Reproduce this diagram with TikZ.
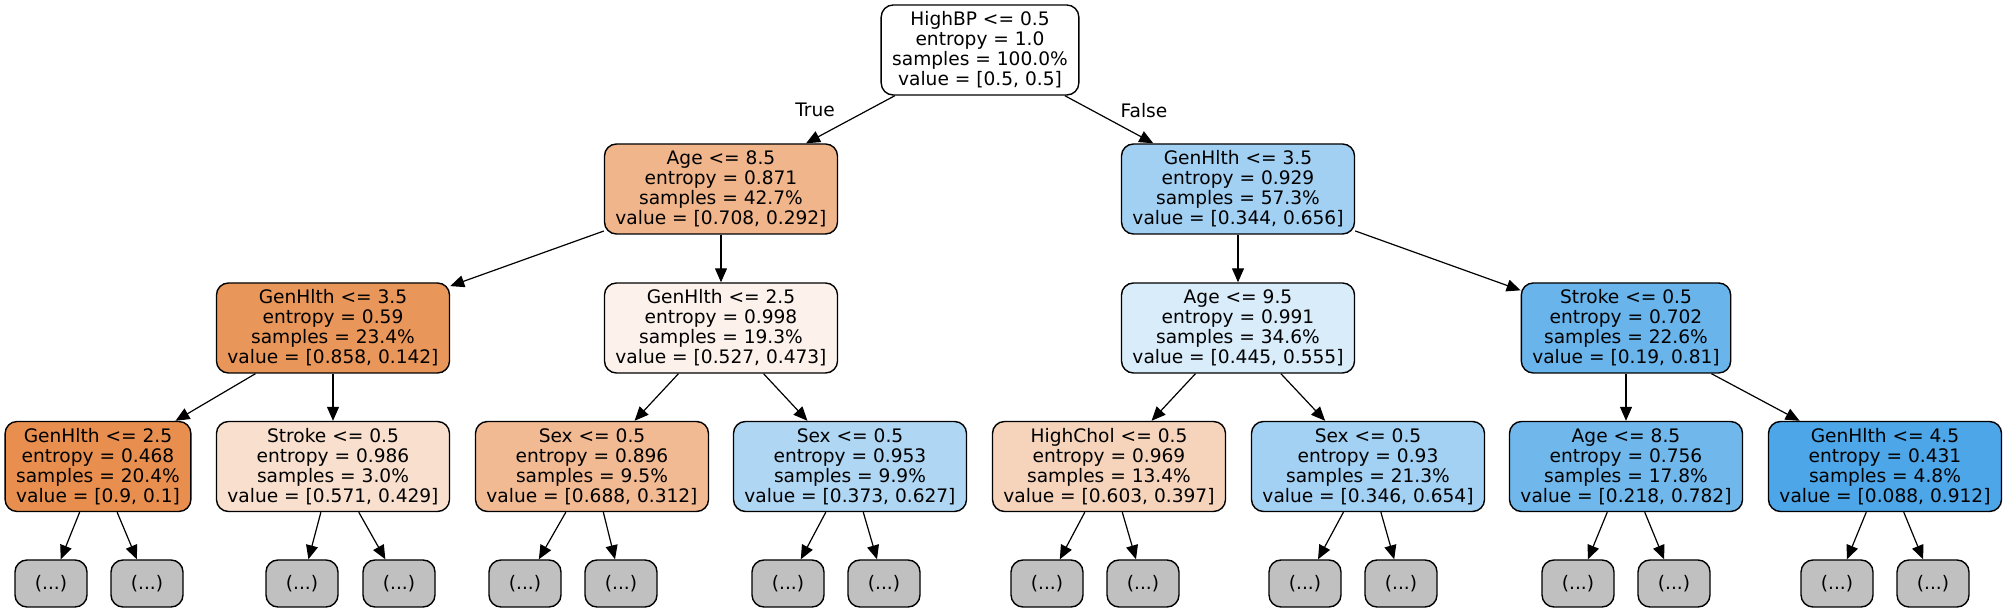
\documentclass[tikz,border=0pt]{standalone}
\usepackage{fontspec}
\setmainfont{DejaVu Sans}
\usetikzlibrary{arrows.meta,positioning}
\definecolor{clsorange}{RGB}{229,129,57}
\definecolor{clsblue}{RGB}{57,157,229}
\definecolor{leafgrey}{RGB}{192,192,192}
\tikzstyle{treenode} = [draw, rectangle, rounded corners=6pt, align=center,
    minimum height=45pt, inner xsep=5.5pt, line width=0.7pt,
    font=\fontsize{9.3}{10}\selectfont]
\tikzstyle{leafnode} = [draw, fill=leafgrey, rectangle, rounded corners=6pt,
    minimum height=23.5pt, minimum width=36pt, line width=0.7pt,
    font=\fontsize{9.3}{10}\selectfont]
\tikzstyle{branch} = [draw, ->, line width=0.6pt]
\tikzstyle{edgelabel} = [font=\fontsize{9.3}{10}\selectfont]

\begin{document}
\begin{tikzpicture}[x=0.5pt, y=-0.5pt, >={Triangle[length=7pt,width=6pt]}]
  \useasboundingbox (0,0) rectangle (2008,613);

  % root and first split
  \node [treenode, fill=white] (root) at (980,50)
    {HighBP <= 0.5\\entropy = 1.0\\samples = 100.0\%\\value = [0.5, 0.5]};
  \node [treenode, fill=clsorange!58.8!white] (age1) at (721,189)
    {Age <= 8.5\\entropy = 0.871\\samples = 42.7\%\\value = [0.708, 0.292]};
  \node [treenode, fill=clsblue!47.6!white] (gen1) at (1238,189)
    {GenHlth <= 3.5\\entropy = 0.929\\samples = 57.3\%\\value = [0.344, 0.656]};

  % depth 2
  \node [treenode, fill=clsorange!83.4!white] (gen2) at (333,328)
    {GenHlth <= 3.5\\entropy = 0.59\\samples = 23.4\%\\value = [0.858, 0.142]};
  \node [treenode, fill=clsorange!10.2!white] (gen3) at (721,328)
    {GenHlth <= 2.5\\entropy = 0.998\\samples = 19.3\%\\value = [0.527, 0.473]};
  \node [treenode, fill=clsblue!19.8!white] (age2) at (1238,328)
    {Age <= 9.5\\entropy = 0.991\\samples = 34.6\%\\value = [0.445, 0.555]};
  \node [treenode, fill=clsblue!76.5!white] (strk1) at (1626,328)
    {Stroke <= 0.5\\entropy = 0.702\\samples = 22.6\%\\value = [0.19, 0.81]};

  % depth 3
  \node [treenode, fill=clsorange!88.9!white] (gen4) at (98,466.5)
    {GenHlth <= 2.5\\entropy = 0.468\\samples = 20.4\%\\value = [0.9, 0.1]};
  \node [treenode, fill=clsorange!24.9!white] (strk2) at (333,466.5)
    {Stroke <= 0.5\\entropy = 0.986\\samples = 3.0\%\\value = [0.571, 0.429]};
  \node [treenode, fill=clsorange!54.7!white] (sex1) at (592,466.5)
    {Sex <= 0.5\\entropy = 0.896\\samples = 9.5\%\\value = [0.688, 0.312]};
  \node [treenode, fill=clsblue!40.5!white] (sex2) at (850,466.5)
    {Sex <= 0.5\\entropy = 0.953\\samples = 9.9\%\\value = [0.373, 0.627]};
  \node [treenode, fill=clsorange!34.2!white] (chol) at (1109,466.5)
    {HighChol <= 0.5\\entropy = 0.969\\samples = 13.4\%\\value = [0.603, 0.397]};
  \node [treenode, fill=clsblue!47.1!white] (sex3) at (1368,466.5)
    {Sex <= 0.5\\entropy = 0.93\\samples = 21.3\%\\value = [0.346, 0.654]};
  \node [treenode, fill=clsblue!72.1!white] (age3) at (1626,466.5)
    {Age <= 8.5\\entropy = 0.756\\samples = 17.8\%\\value = [0.218, 0.782]};
  \node [treenode, fill=clsblue!90.4!white] (gen5) at (1885,466.5)
    {GenHlth <= 4.5\\entropy = 0.431\\samples = 4.8\%\\value = [0.088, 0.912]};

  \node [edgelabel] (truelbl) at (815,110) {True};
  \node [edgelabel] (falselbl) at (1144,111) {False};

  \draw [branch] (root) -- (age1);
  \draw [branch] (root) -- (gen1);
  \draw [branch] (age1) -- (gen2);
  \draw [branch] (age1) -- (gen3);
  \draw [branch] (gen1) -- (age2);
  \draw [branch] (gen1) -- (strk1);
  \draw [branch] (gen2) -- (gen4);
  \draw [branch] (gen2) -- (strk2);
  \draw [branch] (gen3) -- (sex1);
  \draw [branch] (gen3) -- (sex2);
  \draw [branch] (age2) -- (chol);
  \draw [branch] (age2) -- (sex3);
  \draw [branch] (strk1) -- (age3);
  \draw [branch] (strk1) -- (gen5);

  % truncated subtrees
  \foreach \p/\xa/\xb in {gen4/51/147, strk2/302/399, sex1/525/621,
      sex2/788/884, chol/1047/1143, sex3/1305/1401, age3/1578/1674,
      gen5/1837/1933} {
    \node [leafnode] (\p-l) at (\xa,583.5) {(...)};
    \node [leafnode] (\p-r) at (\xb,583.5) {(...)};
    \draw [branch] (\p) -- (\p-l);
    \draw [branch] (\p) -- (\p-r);
  }
\end{tikzpicture}
\end{document}
